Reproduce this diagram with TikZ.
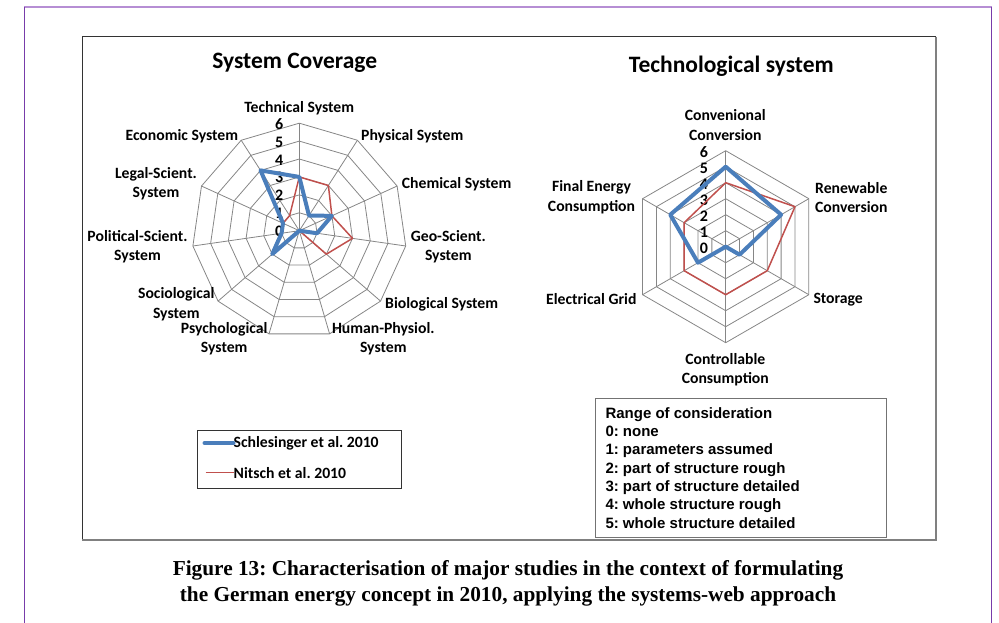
\documentclass[tikz,border=0pt]{standalone}
\usepackage{fontspec}
\setmainfont{Carlito}
\newfontfamily\arialfont{Liberation Sans}
\newfontfamily\timesfont{Liberation Serif}
\usetikzlibrary{calc}
\frenchspacing
\definecolor{schlblue}{RGB}{74,126,187}
\definecolor{nitred}{RGB}{192,80,77}
\definecolor{webgray}{RGB}{134,134,134}
\definecolor{framepurple}{RGB}{120,60,170}
\definecolor{framelav}{RGB}{182,142,212}
\def\ul{17.92}
\def\sl{32.7273}
\def\ur{16}

\tikzset{
  web/.style={draw=webgray, line width=0.8pt},
  schl/.style={draw=schlblue, line width=4pt, line join=round},
  nit/.style={draw=nitred, line width=1.5pt, line join=round},
  lab/.style={font=\bfseries\fontsize{15.7}{19.3}\selectfont, align=center, inner sep=0pt},
  num/.style={font=\bfseries\fontsize{16}{16}\selectfont, inner sep=0pt},
  ttl/.style={font=\bfseries\fontsize{23.5}{26}\selectfont, inner sep=0pt},
  rng/.style={font=\arialfont\bfseries\fontsize{15}{18}\selectfont, anchor=base west, inner sep=0pt},
  capline/.style={font=\timesfont\bfseries\fontsize{21.3}{24}\selectfont, inner sep=0pt}
}

\begin{document}
\begin{tikzpicture}[x=1pt, y=-1pt]
	\useasboundingbox (0,0) rectangle (999,623);
	
	%%%%% FRAME %%%%%
	\draw[framelav, line width=2pt] (24,7) -- (992,7);
	\draw[framepurple, line width=1pt] (24,7) -- (24,623);
	\draw[framepurple, line width=1pt] (991.5,7) -- (991.5,623);
	
	\draw[black!80, line width=1.2pt] (82.3,540) -- (82.3,36.7) -- (935.7,36.7);
	\draw[black!50, line width=1.6pt] (935.7,36.7) -- (935.7,540) -- (82.3,540);
	
	%%%%% SYSTEM COVERAGE %%%%%
	\node[ttl] (ttlL) at (294.7,63) {System Coverage};
	
	\begin{scope}[shift={(299.3,230.7)}]
		\foreach \r in {1,...,6}
			\draw[web] (-90:\r*\ul) \foreach \k in {1,...,10} {-- (-90+\k*\sl:\r*\ul)} -- cycle;
		\foreach \k in {0,...,10}
			\draw[web] (0,0) -- (-90+\k*\sl:6*\ul);
		\foreach \n in {0,...,6}
			\node[num] (lnum\n) at (-20,-\n*\ul+0.8) {\n};
		
		\draw[nit] (-90:3*\ul) \foreach \v [count=\k] in {3,2,3,2,0,0,2,1,1,1} {-- (-90+\k*\sl:\v*\ul)} -- cycle;
		\draw[schl] (-90:3*\ul) \foreach \v [count=\k] in {1,2,1,0,0,0,2,1,1,4} {-- (-90+\k*\sl:\v*\ul)} -- cycle;
	\end{scope}
	
	\node[lab] (tech) at (299.2,108.3) {Technical System};
	\node[lab, anchor=west] (phys) at (361,136) {Physical System};
	\node[lab, anchor=west] (chem) at (401.7,184) {Chemical System};
	\node[lab] (geo) at (448.3,247) {Geo-Scient.\\System};
	\node[lab, anchor=west] (bio) at (385,304) {Biological System};
	\node[lab] (hum) at (383.3,338.8) {Human-Physiol.\\System};
	\node[lab] (psy) at (224.2,338.8) {Psychological\\System};
	\node[lab] (soc) at (176.3,304.2) {Sociological\\System};
	\node[lab] (pol) at (137.5,247) {Political-Scient.\\System};
	\node[lab] (legal) at (156,184) {Legal-Scient.\\System};
	\node[lab, anchor=east] (eco) at (238.3,136) {Economic System};
	
	% legend
	\draw[black!80, line width=1pt] (197.7,430.7) rectangle (401.3,488.3);
	\node[lab, anchor=west] (leg1) at (233.5,443) {Schlesinger et al. 2010};
	\node[lab, anchor=west] (leg2) at (233.5,472.7) {Nitsch et al. 2010};
	\draw[schl, line cap=round] (leg1.west) ++(-29,0) -- (leg1.west);
	\draw[nit] (leg2.west) ++(-28,0) -- (leg2.west);
	
	%%%%% TECHNOLOGICAL SYSTEM %%%%%
	\node[ttl] (ttlR) at (731.3,66.7) {Technological system};
	
	\begin{scope}[shift={(725.7,246.7)}]
		\foreach \r in {1,...,6}
			\draw[web] (-90:\r*\ur) \foreach \k in {1,...,5} {-- (-90+\k*60:\r*\ur)} -- cycle;
		\foreach \k in {0,...,5}
			\draw[web] (0,0) -- (-90+\k*60:6*\ur);
		\foreach \n in {0,...,6}
			\node[num] (rnum\n) at (-21.7,-\n*\ur+1.5) {\n};
		
		\draw[nit] (-90:4*\ur) \foreach \v [count=\k] in {5,3,3,3,3} {-- (-90+\k*60:\v*\ur)} -- cycle;
		\draw[schl] (-90:5*\ur) \foreach \v [count=\k] in {4,1,0,2,4} {-- (-90+\k*60:\v*\ur)} -- cycle;
	\end{scope}
	
	\node[lab] (conv) at (725.3,125) {Convenional\\Conversion};
	\node[lab] (ren) at (851.3,197.3) {Renewable\\Conversion};
	\node[lab, anchor=west] (sto) at (813.3,299.3) {Storage};
	\node[lab] (ctl) at (725.3,370) {Controllable\\Consumption};
	\node[lab, anchor=east] (grid) at (636.7,299.3) {Electrical Grid};
	\node[lab] (fin) at (591.5,197.3) {Final Energy\\Consumption};
	
	% range of consideration
	\draw[black!55, line width=1.2pt] (595.7,398.7) rectangle (886.7,537.3);
	\foreach \t [count=\i from 0] in {Range of consideration, 0: none, 1: parameters assumed,
	    2: part of structure rough, 3: part of structure detailed, 4: whole structure rough,
	    5: whole structure detailed}
		\node[rng] (rng\i) at (605.3,418.2+\i*18.33) {\t};
	
	%%%%% CAPTION %%%%%
	\node[capline] (cap1) at (508,570) {Figure 13: Characterisation of major studies in the context of formulating};
	\node[capline] (cap2) at (508,596) {the German energy concept in 2010, applying the systems-web approach};
\end{tikzpicture}
\end{document}
